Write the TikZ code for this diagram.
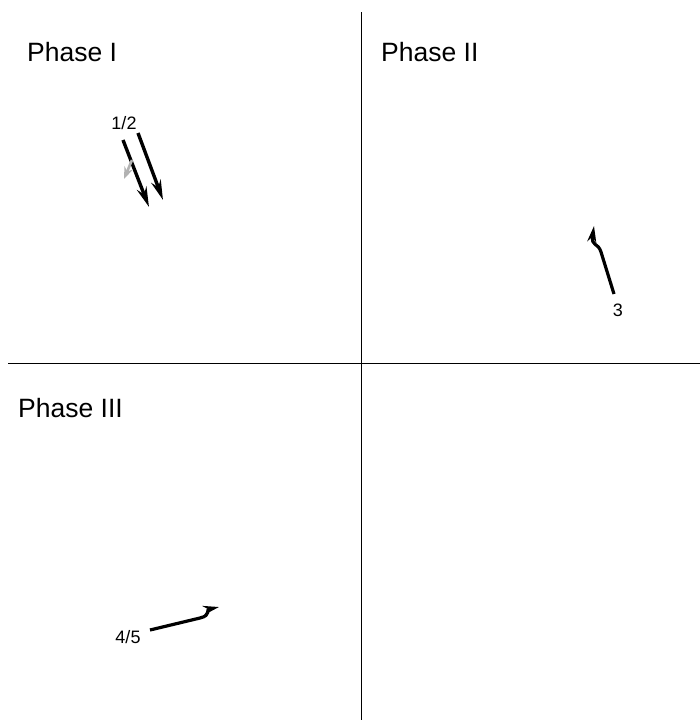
\documentclass[tikz,border=0pt]{standalone}
\usepackage{fontspec}
\setmainfont{Liberation Sans}
\usetikzlibrary{arrows.meta}
\begin{document}
\begin{tikzpicture}[x=1pt,y=-1pt,
  phase/.style={anchor=base west,font=\fontsize{26.5}{30}\selectfont,inner sep=0pt},
  lbl/.style={font=\fontsize{18}{20}\selectfont,inner sep=0pt},
  axis/.style={line width=0.8pt},
  vec/.style={line width=3.4pt,-{Stealth[length=20pt,width=10pt]}},
  curlvec/.style={line width=3.2pt,-{Stealth[length=16pt,width=9pt]}}]
\useasboundingbox (0,0) rectangle (700,721);
% axes
\coordinate (vt) at (361,12); \coordinate (vb) at (361,720);
\coordinate (hl) at (8,363); \coordinate (hr) at (700,363);
\draw[axis] (vt) -- (vb);
\draw[axis] (hl) -- (hr);
% titles
\node[phase] (p1) at (27,61) {Phase I};
\node[phase] (p2) at (381,61) {Phase II};
\node[phase] (p3) at (18,417) {Phase III};
% phase I
\node[lbl] (l12) at (124,123) {1/2};
\coordinate (a1s) at (123,140); \coordinate (a1e) at (149,207);
\coordinate (a2s) at (138,133); \coordinate (a2e) at (163,200);
\draw[vec] (a1s) -- (a1e);
\draw[vec] (a2s) -- (a2e);
\coordinate (gs) at (132,160); \coordinate (ge) at (124,179);
\draw[gray!60,line width=2.6pt,-{Stealth[length=12pt,width=9pt]}] (gs) -- (ge);
% phase II
\coordinate (b1) at (614,294); \coordinate (b2) at (601,252);
\coordinate (b3) at (594,226);
\draw[curlvec] (b1) -- (b2) .. controls (598,242) and (591,247) .. (b3);
\node[lbl] (l3) at (618,310) {3};
% phase III
\coordinate (c1) at (150,630); \coordinate (c2) at (200,618);
\coordinate (c3) at (219,607);
\draw[curlvec] (c1) -- (c2) .. controls (212,615) and (205,610) .. (c3);
\node[lbl] (l45) at (128,637) {4/5};
\end{tikzpicture}
\end{document}
